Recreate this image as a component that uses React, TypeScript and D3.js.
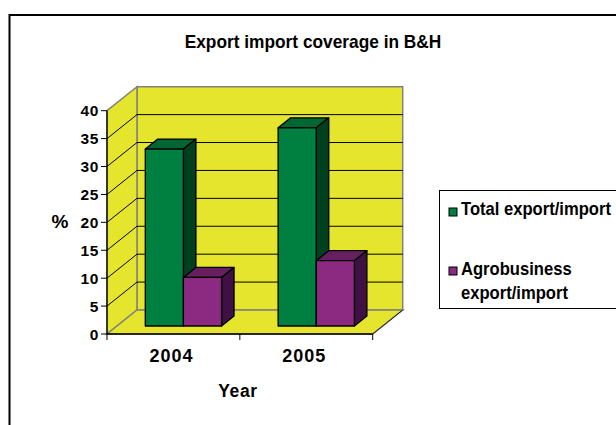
import React from "react";
import * as d3 from "d3";

const years = ["2004", "2005"];
const seriesNames = ["Total export/import", "Agrobusiness export/import"];
const totalValues = [31.7, 35.5];
const agroValues = [8.7, 11.7];
const yTicks = [0, 5, 10, 15, 20, 25, 30, 35, 40];

const FONT = "'Liberation Sans', Arial, sans-serif";
const YELLOW = "#e6e52e";
const colors = [
  { front: "#008040", top: "#006633", side: "#00401f" },
  { front: "#8c2a82", top: "#66205f", side: "#3f1043" },
];

function StretchText(props: { x: number; y: number; size: number; sy: number; children: string; anchor?: string; ls?: number }) {
  return (
    <text
      transform={`translate(${props.x},${props.y}) scale(1,${props.sy})`}
      textAnchor={props.anchor || "start"}
      fontSize={props.size}
      fontWeight="bold"
      letterSpacing={props.ls || 0}
    >
      {props.children}
    </text>
  );
}

export default function App() {
  const ox = 107;
  const oy = 334;
  const W = 265.7;
  const H = 223.3;
  const dX = 30;
  const dY = 24;
  const f1 = 0.333;
  const f2 = 0.75;

  const y = d3.scaleLinear().domain([0, 40]).range([oy, oy - H]);
  const x = d3.scaleBand().domain(years).range([ox, ox + W]).paddingInner(0.426).paddingOuter(0.213);
  const xs = d3.scaleBand().domain(seriesNames).range([0, x.bandwidth()]);
  const seriesValues = [totalValues, agroValues];

  const pts = (p: number[][]) => p.map((q) => q.join(",")).join(" ");

  const bars: JSX.Element[] = [];
  years.forEach((yr, i) => {
    seriesNames.forEach((s, j) => {
      const v = seriesValues[j][i];
      const xa = (x(yr) as number) + (xs(s) as number) + f1 * dX;
      const xb = xa + xs.bandwidth();
      const yb = oy - f1 * dY;
      const yt = y(v) - f1 * dY;
      const ddx = (f2 - f1) * dX;
      const ddy = (f2 - f1) * dY;
      const c = colors[j];
      bars.push(
        <g key={yr + s} stroke="#000" strokeWidth={1.3} strokeLinejoin="round">
          <polygon points={pts([[xa, yt], [xb, yt], [xb + ddx, yt - ddy], [xa + ddx, yt - ddy]])} fill={c.top} />
          <polygon points={pts([[xb, yt], [xb + ddx, yt - ddy], [xb + ddx, yb - ddy], [xb, yb]])} fill={c.side} />
          <rect x={xa} y={yt} width={xb - xa} height={yb - yt} fill={c.front} />
        </g>
      );
    });
  });

  const bx = ox + dX;
  const by = oy - dY;

  return (
    <svg width={616} height={425} style={{ position: "absolute", left: 0, top: 0 }} fontFamily={FONT}>
      <rect x={0} y={0} width={616} height={425} fill="#fff" />
      <rect x={9.5} y={15} width={800} height={600} fill="none" stroke="#000" strokeWidth={2} />
      <StretchText x={313} y={47.5} size={17.3} sy={1.08} anchor="middle">Export import coverage in B&amp;H</StretchText>

      {/* walls */}
      <polygon points={pts([[bx, by], [bx + W, by], [bx + W, by - H], [bx, by - H]])} fill={YELLOW} stroke="#808080" strokeWidth={1.5} />
      <polygon points={pts([[ox, oy], [bx, by], [bx, by - H], [ox, oy - H]])} fill={YELLOW} stroke="#808080" strokeWidth={1.5} />
      <polygon points={pts([[ox, oy], [ox + W, oy], [bx + W, by], [bx, by]])} fill={YELLOW} stroke="#808080" strokeWidth={1.5} />
      {yTicks.filter((t) => t > 0 && t < 40).map((t) => (
        <g key={"g" + t} stroke="#000" strokeWidth={1}>
          <line x1={bx} x2={bx + W} y1={y(t) - dY} y2={y(t) - dY} />
          <line x1={ox} x2={bx} y1={y(t)} y2={y(t) - dY} />
        </g>
      ))}
      <line x1={ox + W} y1={oy} x2={bx + W} y2={by} stroke="#222" strokeWidth={1} />

      {bars}

      {/* axes */}
      <line x1={ox} x2={ox} y1={y(40)} y2={oy} stroke="#000" strokeWidth={1.3} />
      <line x1={ox} x2={ox + W} y1={oy} y2={oy} stroke="#000" strokeWidth={1.3} />
      {yTicks.map((t) => (
        <g key={"t" + t}>
          <line x1={ox - 6} x2={ox} y1={y(t)} y2={y(t)} stroke="#000" strokeWidth={1} />
          <text x={99} y={y(t)} dy="0.36em" textAnchor="end" fontSize={15.5} fontWeight="bold" letterSpacing={0.6}>
            {t}
          </text>
        </g>
      ))}
      {[0, 1, 2].map((k) => (
        <line key={"xt" + k} x1={ox + (k * W) / 2} x2={ox + (k * W) / 2} y1={oy} y2={oy + 6} stroke="#000" strokeWidth={1} />
      ))}
      {years.map((yr) => (
        <text key={yr} x={(x(yr) as number) + x.bandwidth() / 2 - 2} y={362} textAnchor="middle" fontSize={18} fontWeight="bold" letterSpacing={1}>
          {yr}
        </text>
      ))}
      <text x={238} y={397} textAnchor="middle" fontSize={17.5} fontWeight="bold" letterSpacing={0.6}>Year</text>
      <text x={60} y={228} textAnchor="middle" fontSize={19} fontWeight="bold">%</text>

      {/* legend */}
      <rect x={439.5} y={190.5} width={300} height={118} fill="#fff" stroke="#000" strokeWidth={1} />
      <rect x={449} y={208} width={8} height={8} fill={colors[0].front} stroke="#000" strokeWidth={1} />
      <StretchText x={461} y={214.5} size={16.6} sy={1.15}>Total export/import</StretchText>
      <rect x={449} y={267} width={8} height={8} fill={colors[1].front} stroke="#000" strokeWidth={1} />
      <StretchText x={461} y={274.5} size={16.6} sy={1.15}>Agrobusiness</StretchText>
      <StretchText x={461} y={298.5} size={16.6} sy={1.15}>export/import</StretchText>
    </svg>
  );
}
